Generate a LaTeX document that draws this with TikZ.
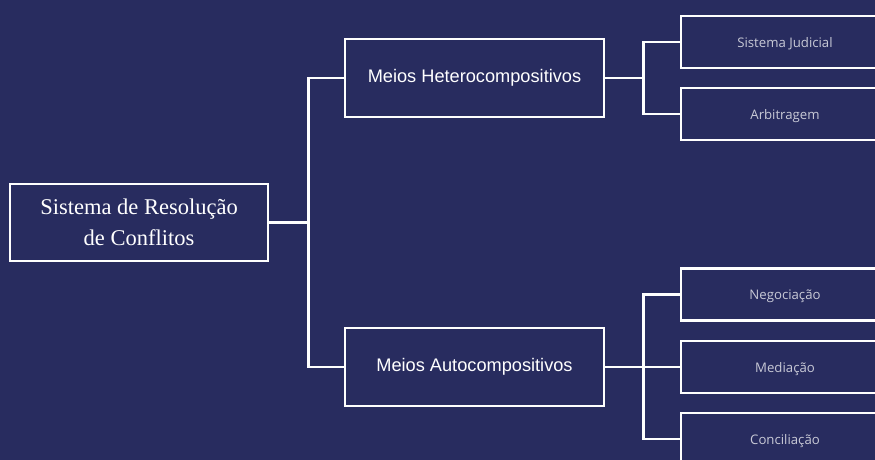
\documentclass[tikz,border=0pt]{standalone}
\usepackage{fontspec}
\newfontfamily\rootfont{Liberation Serif}
\newfontfamily\midfont{Liberation Sans}
\newfontfamily\leaffont{Open Sans}
\definecolor{navy}{HTML}{282C5F}
\definecolor{leaftext}{HTML}{C8C9D6}
\begin{document}
\begin{tikzpicture}[
	x=1pt,y=-1pt,
	line width=2.6pt,
	line cap=butt,
	line join=miter,
	box/.style={draw=white,fill=navy,inner sep=0pt,align=center},
	rootbox/.style={box,minimum width=258pt,minimum height=77pt,font=\rootfont\fontsize{22.5}{31}\selectfont,text=white},
	midbox/.style={box,minimum width=259pt,minimum height=78pt,font=\midfont\fontsize{18.2}{22}\selectfont,text=white},
	leafbox/.style={box,minimum width=208pt,minimum height=52pt,font=\leaffont\fontsize{13.2}{16}\selectfont,text=leaftext,text depth=0pt},
	link/.style={draw=white}
	]
	\fill[navy] (0,0) rectangle (875,460);
	\useasboundingbox (0,0) rectangle (875,460);
	% boxes
	\node[rootbox] (root) at (139,222.5) {Sistema de Resolução\\de Conflitos};
	\node[midbox] (het) at (474.5,78) {Meios Heterocompositivos};
	\node[midbox] (auto) at (474.5,367) {Meios Autocompositivos};
	\node[leafbox] (jud) at (785,42) {Sistema Judicial};
	\node[leafbox] (arb) at (785,114) {Arbitragem};
	\node[leafbox] (neg) at (785,294.5) {Negociação};
	\node[leafbox] (med) at (785,367) {Mediação};
	\node[leafbox] (con) at (785,439) {Conciliação};
	% connectors
	\begin{scope}[link]
		\draw (root.east) -- ++(39,0) coordinate (j1);
		\draw (het.west) -| (j1);
		\draw (auto.west) -| (j1);
		\draw (het.east) -- ++(38,0) coordinate (j2);
		\draw (jud.west) -| (j2);
		\draw (arb.west) -| (j2);
		\draw (auto.east) -- (med.west);
		\path (auto.east) -- ++(38,0) coordinate (j3);
		\draw (neg.west) -| (j3);
		\draw (con.west) -| (j3);
	\end{scope}
\end{tikzpicture}
\end{document}
